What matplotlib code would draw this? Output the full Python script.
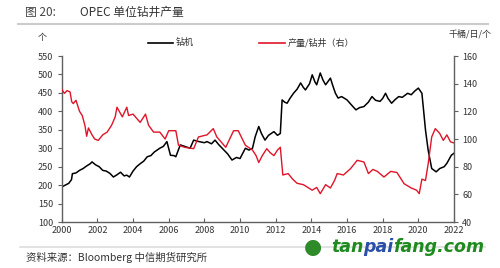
import numpy as np
import matplotlib
matplotlib.use("Agg")
import matplotlib.pyplot as plt

plt.rcParams['font.family'] = ['Noto Sans CJK SC', 'DejaVu Sans']

# 钻机数量（左轴，个）
rig_years = [2000.0, 2000.2, 2000.4, 2000.55, 2000.6, 2000.8, 2001.0, 2001.2, 2001.4, 2001.6,
             2001.7, 2001.9, 2002.1, 2002.3, 2002.5, 2002.7, 2002.9, 2003.1, 2003.3, 2003.5,
             2003.65, 2003.8, 2004.0, 2004.2, 2004.4, 2004.6, 2004.8, 2005.0, 2005.2, 2005.5,
             2005.7, 2005.9, 2006.1, 2006.3, 2006.4, 2006.65, 2006.9, 2007.2, 2007.4, 2007.7,
             2008.0, 2008.15, 2008.4, 2008.6, 2008.8, 2009.1, 2009.3, 2009.55, 2009.8, 2010.0,
             2010.3, 2010.5, 2010.7, 2010.85, 2011.05, 2011.2, 2011.4, 2011.6, 2011.9, 2012.1,
             2012.26, 2012.36, 2012.5, 2012.64, 2012.8, 2013.0, 2013.2, 2013.4, 2013.55, 2013.67,
             2013.9, 2014.05, 2014.2, 2014.3, 2014.5, 2014.65, 2014.8, 2015.07, 2015.2, 2015.35,
             2015.5, 2015.7, 2016.0, 2016.2, 2016.5, 2016.7, 2016.95, 2017.2, 2017.4, 2017.6,
             2017.85, 2018.0, 2018.16, 2018.3, 2018.5, 2018.7, 2018.9, 2019.1, 2019.4, 2019.6,
             2019.8, 2020.0, 2020.2, 2020.3, 2020.4, 2020.55, 2020.75, 2021.0, 2021.2, 2021.45,
             2021.6, 2021.85, 2022.1]
rig_vals = [195, 200, 205, 215, 231, 233, 240, 245, 252, 258,
            263, 255, 250, 240, 238, 232, 222, 228, 235, 225,
            227, 222, 238, 250, 258, 265, 277, 280, 290, 300,
            305, 318, 281, 280, 277, 309, 305, 300, 322, 318,
            315, 318, 312, 322, 310, 295, 285, 268, 275, 272,
            300, 295, 300, 331, 359, 340, 322, 335, 345, 335,
            340, 431, 425, 422, 435, 449, 460, 477, 465, 458,
            475, 499, 480, 472, 504, 485, 472, 490, 470, 449,
            436, 440, 431, 420, 404, 410, 413, 425, 440, 430,
            427, 435, 449, 435, 422, 432, 440, 438, 449, 445,
            455, 463, 449, 400, 350, 295, 245, 236, 245, 250,
            259, 281, 290]

# 产量/钻井（右轴，千桶/日/个）
prod_years = [2000.0, 2000.15, 2000.3, 2000.47, 2000.56, 2000.65, 2000.8, 2001.0, 2001.15, 2001.3,
              2001.4, 2001.5, 2001.7, 2001.85, 2002.05, 2002.3, 2002.55, 2002.8, 2003.0, 2003.1,
              2003.4, 2003.65, 2003.75, 2004.0, 2004.2, 2004.4, 2004.7, 2004.87, 2005.15, 2005.5,
              2005.8, 2006.0, 2006.4, 2006.55, 2006.9, 2007.4, 2007.67, 2008.15, 2008.5, 2008.7,
              2009.0, 2009.2, 2009.64, 2009.9, 2010.3, 2010.7, 2010.9, 2011.05, 2011.25, 2011.5,
              2011.7, 2011.9, 2012.1, 2012.26, 2012.4, 2012.7, 2012.95, 2013.2, 2013.55, 2013.8,
              2014.05, 2014.3, 2014.5, 2014.8, 2015.07, 2015.3, 2015.45, 2015.8, 2016.2, 2016.57,
              2016.95, 2017.2, 2017.45, 2017.7, 2018.07, 2018.45, 2018.8, 2019.2, 2019.6, 2019.9,
              2020.05, 2020.2, 2020.4, 2020.55, 2020.75, 2020.95, 2021.2, 2021.4, 2021.6, 2021.8,
              2022.1]
prod_vals = [136, 133, 135, 134, 127, 125.6, 128, 120, 117, 110,
             102, 108, 103, 100, 99, 103, 105, 110, 116, 123,
             116, 123, 117, 118, 115, 112, 118, 110, 105, 105,
             100, 106, 106, 95.5, 94, 93, 101.5, 103, 107.5, 101.5,
             97, 94, 106, 106, 95.5, 92, 88, 83, 88, 93,
             90, 88, 92, 94, 74, 75, 71, 68, 67, 65,
             63, 65, 60.5, 67, 64.6, 70, 75, 74, 78.6, 84.6,
             83.4, 75, 78, 76.6, 72.5, 76.6, 75.8, 67.7, 64.6, 63,
             60.5, 71, 70, 82, 101.5, 107.5, 104, 99, 103, 98,
             96.7]

x_ticks = list(range(2000, 2023, 2))
left_ticks = list(range(100, 551, 50))
right_ticks = list(range(40, 161, 20))

fig = plt.figure(figsize=(5, 2.68), dpi=100)
ax = fig.add_axes([0.1234, 0.1716, 0.7846, 0.6194])
ax2 = ax.twinx()

spine_c = '#606060'
ax.plot(rig_years, rig_vals, color='black', lw=1.1)
ax2.plot(prod_years, prod_vals, color='#e0142a', lw=1.0)

ax.set_xlim(2000, 2022)
ax.set_ylim(100, 550)
ax2.set_ylim(40, 160)
ax.set_xticks(x_ticks)
ax.set_yticks(left_ticks)
ax2.set_yticks(right_ticks)

for a in (ax, ax2):
    a.spines['top'].set_visible(False)
    for s in ('left', 'right', 'bottom'):
        a.spines[s].set_color(spine_c)
        a.spines[s].set_linewidth(1.0)
ax.spines['right'].set_visible(False)
ax2.spines['left'].set_visible(False)
ax2.spines['bottom'].set_visible(False)

ax.tick_params(axis='y', direction='out', length=3, color=spine_c, labelsize=6.5, pad=3, labelcolor='#333333')
ax.tick_params(axis='x', direction='in', length=3, color=spine_c, labelsize=6.5, pad=3, labelcolor='#333333')
ax2.tick_params(axis='y', direction='out', length=3, color=spine_c, labelsize=6.5, pad=3, labelcolor='#333333')

# 标题与单位
fig.text(0.05, 0.955, '图 20:', fontsize=8.5, color='#444444', va='center')
fig.text(0.16, 0.955, 'OPEC 单位钻井产量', fontsize=8.5, color='#333333', va='center')
fig.add_artist(plt.Line2D([0.035, 0.975], [0.91, 0.91], color='#cccccc', lw=1.5))
fig.text(0.084, 0.86, '个', fontsize=6.5, color='#333333', va='center', ha='center')
fig.text(0.94, 0.875, '千桶/日/个', fontsize=6.5, color='#333333', va='center', ha='center')

# 图例
fig.add_artist(plt.Line2D([0.296, 0.345], [0.84, 0.84], color='black', lw=1.2))
fig.text(0.352, 0.84, '钻机', fontsize=6.5, color='#333333', va='center')
fig.add_artist(plt.Line2D([0.518, 0.57], [0.84, 0.84], color='#e0142a', lw=1.2))
fig.text(0.575, 0.84, '产量/钻井（右）', fontsize=6.5, color='#333333', va='center')

# 来源与水印
fig.add_artist(plt.Line2D([0.04, 0.97], [0.08, 0.08], color='#dddddd', lw=1.2))
fig.text(0.052, 0.038, '资料来源：Bloomberg 中信期货研究所', fontsize=7.5, color='#333333', va='center')
fig.text(0.626, 0.078, '●', fontsize=15, color='#2f8a2a', va='center', ha='center', family='DejaVu Sans')

renderer = fig.canvas.get_renderer()
x0 = 0.662
for part, col in [('tan', '#1f8a1f'), ('pai', '#2a4fa8'), ('fang.com', '#1f8a1f')]:
    t = fig.text(x0, 0.078, part, fontsize=12.5, color=col, va='center', fontweight='bold',
                 style='italic', family='DejaVu Sans')
    bb = t.get_window_extent(renderer)
    x0 += bb.width / fig.bbox.width

fig.savefig('out.png', dpi=100)
